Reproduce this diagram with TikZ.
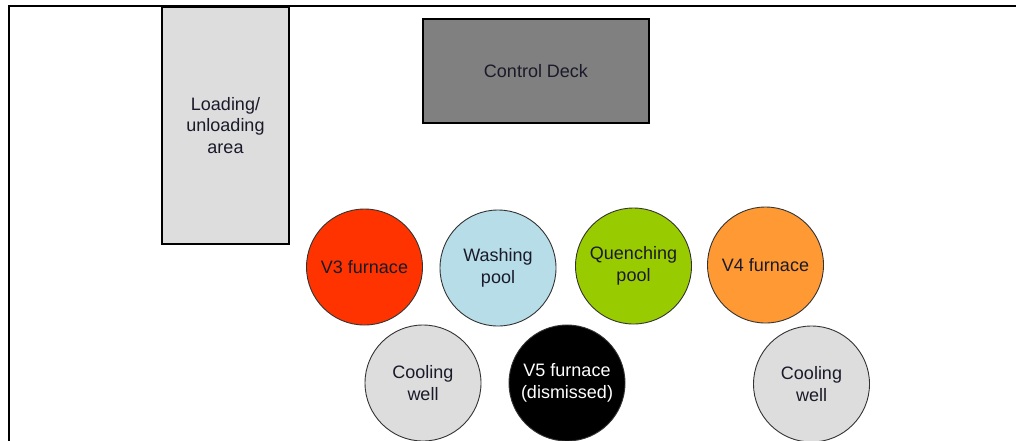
\documentclass[tikz,border=0pt]{standalone}
\usepackage{fontspec}
\setmainfont{Liberation Sans}
\definecolor{loadgray}{HTML}{DDDDDD}
\definecolor{deckgray}{HTML}{808080}
\definecolor{vthree}{HTML}{FF3300}
\definecolor{washblue}{HTML}{B7DEE8}
\definecolor{quenchgreen}{HTML}{99CC00}
\definecolor{vfour}{HTML}{FF9933}
\definecolor{txt}{HTML}{1A1A2A}
\begin{document}
\begin{tikzpicture}[x=1pt,y=-1pt,
  lbl/.style={font=\fontsize{18}{21.5}\selectfont, text=txt, align=center},
  areabox/.style={draw=black, line width=1.3pt, inner sep=0pt, lbl},
  station/.style={circle, draw=black!80, line width=0.9pt, minimum size=116pt, inner sep=0pt, lbl}]
\useasboundingbox (0,0) rectangle (1016,440);
\clip (0,0) rectangle (1016,440);
\fill[white] (0,0) rectangle (1016,440);
% outer frame
\coordinate (fbl) at (9,460);
\coordinate (ftl) at (9,6);
\coordinate (ftr) at (1030,6);
\draw[line width=1.3pt] (fbl) -- (ftl) -- (ftr);
% areas
\node[areabox, fill=loadgray, minimum width=127pt, minimum height=237pt] (load) at (225.5,125.5) {Loading/\\unloading\\area};
\node[areabox, fill=deckgray, minimum width=226pt, minimum height=104pt] (deck) at (536,71) {Control Deck};
% stations
\node[station, fill=vthree] (v3) at (364.5,267) {V3 furnace};
\node[station, fill=washblue] (wash) at (498,268) {Washing\\pool};
\node[station, fill=quenchgreen] (quench) at (633.5,266) {Quenching\\pool};
\node[station, fill=vfour] (v4) at (765.5,265) {V4 furnace};
\node[station, fill=loadgray] (cool1) at (423,383) {Cooling\\well};
\node[station, fill=black, text=white] (v5) at (567,383) {V5 furnace\\(dismissed)};
\node[station, fill=loadgray] (cool2) at (811.5,384) {Cooling\\well};
\end{tikzpicture}
\end{document}
